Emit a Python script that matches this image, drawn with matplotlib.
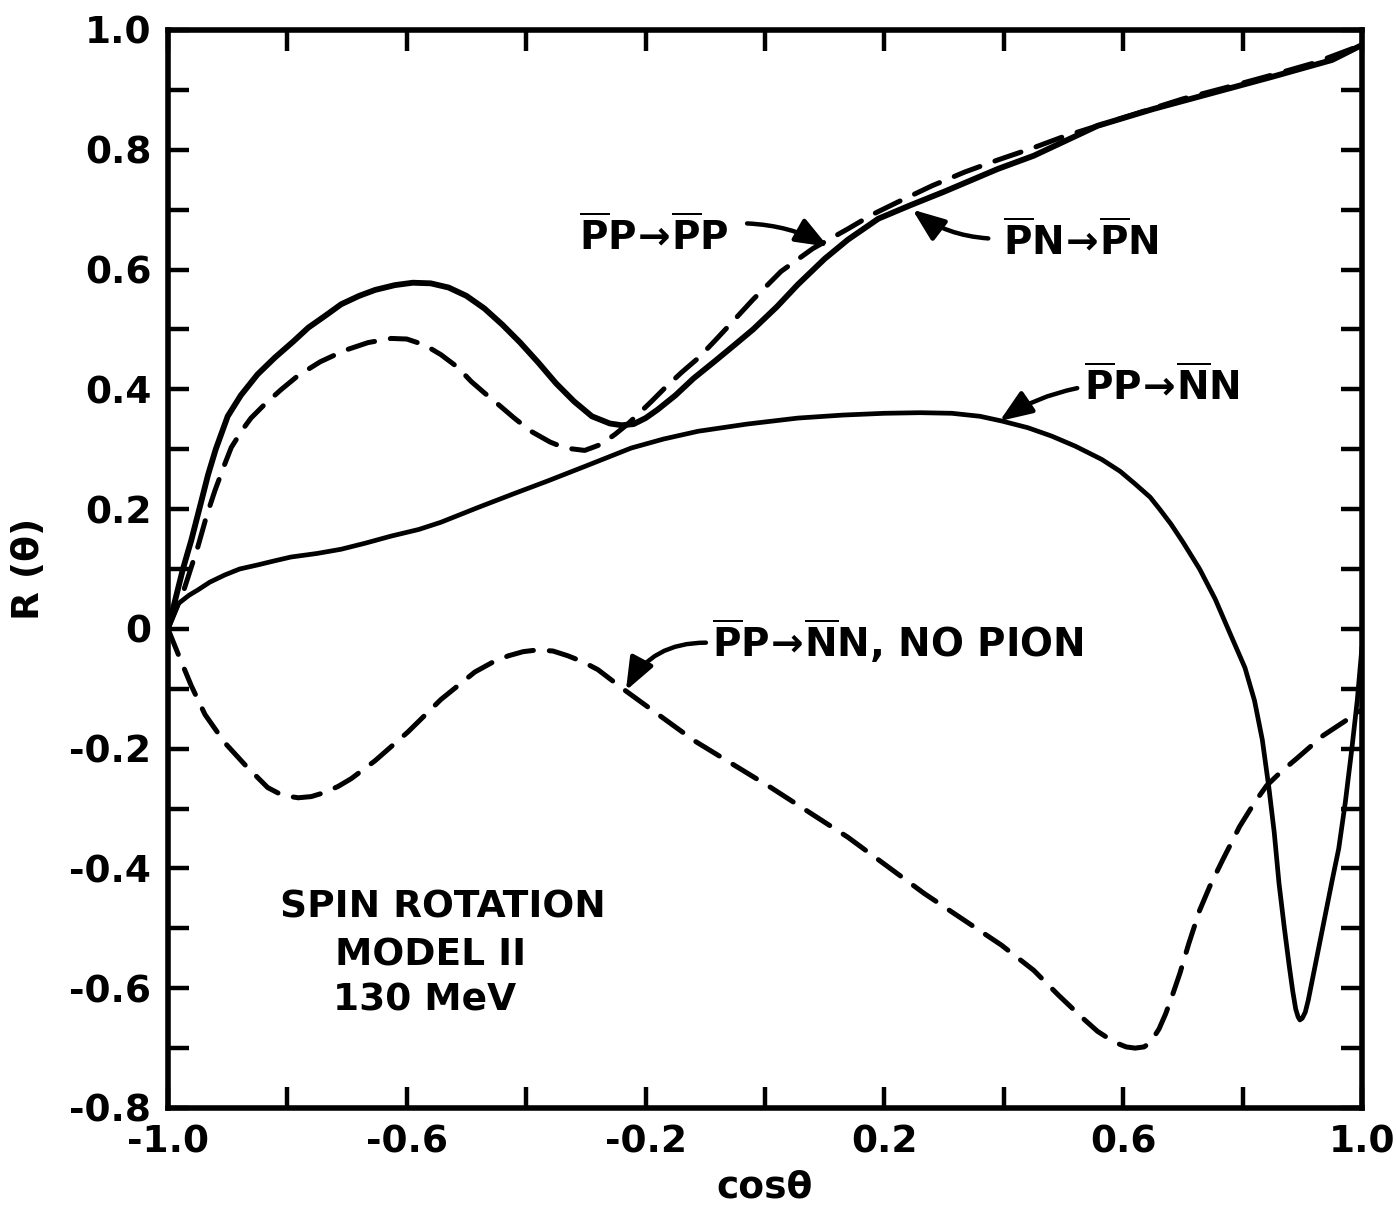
import matplotlib
matplotlib.use("Agg")
import matplotlib.pyplot as plt

plt.rcParams['font.family'] = ['DejaVu Sans']
plt.rcParams['font.weight'] = 'bold'
plt.rcParams['mathtext.fontset'] = 'dejavusans'

# ---- data ----
pn_x = [-1.0, -0.99, -0.975, -0.961, -0.945, -0.933, -0.92, -0.9, -0.878, -0.85, -0.821,
        -0.79, -0.765, -0.735, -0.71, -0.68, -0.653, -0.62, -0.59, -0.56, -0.53, -0.5,
        -0.47, -0.44, -0.41, -0.38, -0.35, -0.32, -0.29, -0.26, -0.24, -0.22, -0.2,
        -0.18, -0.15, -0.12, -0.084, -0.05, -0.02, 0.02, 0.055, 0.1, 0.139, 0.19, 0.245,
        0.3, 0.39, 0.45, 0.557, 0.65, 0.75, 0.85, 0.95, 1.0]
pn_y = [0.0, 0.04, 0.1, 0.148, 0.21, 0.257, 0.3, 0.355, 0.39, 0.425, 0.453,
        0.48, 0.503, 0.524, 0.542, 0.556, 0.566, 0.574, 0.578, 0.577, 0.57, 0.556,
        0.535, 0.508, 0.478, 0.445, 0.41, 0.38, 0.355, 0.343, 0.34, 0.342, 0.352,
        0.366, 0.39, 0.418, 0.447, 0.475, 0.5, 0.538, 0.575, 0.618, 0.65, 0.685, 0.708,
        0.73, 0.768, 0.79, 0.84, 0.868, 0.895, 0.922, 0.95, 0.975]

pp_x = [-1.0, -0.975, -0.95, -0.935, -0.921, -0.905, -0.894, -0.875, -0.861, -0.838,
        -0.81, -0.782, -0.745, -0.704, -0.665, -0.626, -0.6, -0.57, -0.543, -0.515,
        -0.492, -0.47, -0.447, -0.42, -0.392, -0.36, -0.335, -0.302, -0.275, -0.251,
        -0.23, -0.213, -0.19, -0.168, -0.14, -0.112, -0.085, -0.057, -0.02, 0.027,
        0.08, 0.139, 0.18, 0.223, 0.28, 0.335, 0.39, 0.446, 0.5, 0.557, 0.63, 0.7,
        0.78, 0.85, 0.92, 1.0]
pp_y = [0.0, 0.06, 0.137, 0.19, 0.232, 0.275, 0.303, 0.333, 0.352, 0.375,
        0.4, 0.423, 0.446, 0.465, 0.478, 0.485, 0.484, 0.474, 0.458, 0.437,
        0.413, 0.394, 0.375, 0.352, 0.33, 0.312, 0.302, 0.298, 0.308, 0.325,
        0.342, 0.358, 0.38, 0.402, 0.428, 0.452, 0.48, 0.51, 0.55, 0.597,
        0.635, 0.668, 0.692, 0.713, 0.74, 0.763, 0.783, 0.802, 0.822, 0.84, 0.863, 0.885,
        0.906, 0.925, 0.945, 0.975]

nn_x = [-1.0, -0.99, -0.983, -0.965, -0.95, -0.93, -0.905, -0.88, -0.849, -0.82,
        -0.794, -0.75, -0.71, -0.67, -0.626, -0.58, -0.543, -0.48, -0.42, -0.364,
        -0.3, -0.224, -0.17, -0.112, -0.03, 0.055, 0.13, 0.2, 0.26, 0.313, 0.36,
        0.397, 0.44, 0.48, 0.52, 0.564, 0.595, 0.62, 0.645, 0.661, 0.68, 0.70,
        0.728, 0.754, 0.78, 0.804, 0.82, 0.833, 0.844, 0.853, 0.861, 0.87, 0.878,
        0.884, 0.889, 0.893, 0.896, 0.9, 0.905, 0.91, 0.916, 0.927, 0.938, 0.95,
        0.961, 0.972, 0.983, 0.992, 1.0]
nn_y = [0.0, 0.025, 0.042, 0.056, 0.065, 0.078, 0.09, 0.1, 0.107, 0.114,
        0.12, 0.126, 0.133, 0.143, 0.155, 0.166, 0.178, 0.203, 0.226, 0.247,
        0.272, 0.302, 0.317, 0.33, 0.342, 0.352, 0.357, 0.36, 0.361, 0.36, 0.355,
        0.347, 0.336, 0.322, 0.305, 0.283, 0.263, 0.242, 0.22, 0.2, 0.175, 0.145,
        0.1, 0.05, -0.01, -0.065, -0.12, -0.185, -0.265, -0.34, -0.425, -0.5, -0.562,
        -0.605, -0.635, -0.648, -0.653, -0.65, -0.64, -0.62, -0.59, -0.535, -0.48, -0.42,
        -0.367, -0.29, -0.2, -0.12, -0.03]

np_x = [-1.0, -0.983, -0.961, -0.938, -0.905, -0.871, -0.833, -0.808, -0.782, -0.76,
        -0.737, -0.715, -0.693, -0.653, -0.598, -0.543, -0.486, -0.455, -0.43, -0.405,
        -0.38, -0.355, -0.33, -0.305, -0.28, -0.234, -0.118, 0.01, 0.139, 0.267, 0.396,
        0.45, 0.492, 0.53, 0.557, 0.585, 0.605, 0.62, 0.635, 0.646, 0.66, 0.671, 0.683,
        0.695, 0.71, 0.728, 0.745, 0.767, 0.795, 0.82, 0.84, 0.865, 0.89, 0.935, 0.97, 1.0]
np_y = [0.0, -0.042, -0.095, -0.143, -0.19, -0.227, -0.265, -0.278, -0.282, -0.28,
        -0.273, -0.263, -0.25, -0.22, -0.172, -0.118, -0.072, -0.055, -0.045, -0.038,
        -0.035, -0.037, -0.045, -0.055, -0.068, -0.103, -0.187, -0.265, -0.348, -0.442, -0.528,
        -0.57, -0.612, -0.648, -0.672, -0.69, -0.698, -0.70, -0.698, -0.69, -0.668, -0.643, -0.61,
        -0.575, -0.525, -0.47, -0.43, -0.385, -0.33, -0.29, -0.262, -0.238, -0.217, -0.178, -0.155, -0.135]

x_ticks = [-1.0, -0.8, -0.6, -0.4, -0.2, 0.0, 0.2, 0.4, 0.6, 0.8, 1.0]
x_labels = ['-1.0', '', '-0.6', '', '-0.2', '', '0.2', '', '0.6', '', '1.0']
y_ticks = [1.0, 0.9, 0.8, 0.7, 0.6, 0.5, 0.4, 0.3, 0.2, 0.1, 0.0,
           -0.1, -0.2, -0.3, -0.4, -0.5, -0.6, -0.7, -0.8]
y_labels = ['1.0', '', '0.8', '', '0.6', '', '0.4', '', '0.2', '', '0',
            '', '-0.2', '', '-0.4', '', '-0.6', '', '-0.8']

lbl_pp = r'$\overline{\mathbf{P}}\mathbf{P}\!\rightarrow\!\overline{\mathbf{P}}\mathbf{P}$'
lbl_pn = r'$\overline{\mathbf{P}}\mathbf{N}\!\rightarrow\!\overline{\mathbf{P}}\mathbf{N}$'
lbl_nn = r'$\overline{\mathbf{P}}\mathbf{P}\!\rightarrow\!\overline{\mathbf{N}}\mathbf{N}$'
lbl_np = r'$\overline{\mathbf{P}}\mathbf{P}\!\rightarrow\!\overline{\mathbf{N}}\mathbf{N}$, NO PION'

# ---- figure ----
W, H = 1396, 1216
fig = plt.figure(figsize=(W / 100, H / 100), dpi=100)
L, R, T, B = 168, 1362, 30, 1108
ax = fig.add_axes([L / W, 1 - B / H, (R - L) / W, (B - T) / H])

solid_kw = dict(color='black', solid_capstyle='round', solid_joinstyle='round')
ax.plot(pn_x, pn_y, lw=4.2, **solid_kw)
ax.plot(nn_x, nn_y, lw=3.4, **solid_kw)
ax.plot(pp_x, pp_y, lw=3.6, color='black', linestyle=(0, (5.5, 3.2)), dash_capstyle='round')
ax.plot(np_x, np_y, lw=3.6, color='black', linestyle=(0, (5.5, 3.2)), dash_capstyle='round')

ax.set_xlim(-1.0, 1.0)
ax.set_ylim(-0.8, 1.0)
ax.set_xticks(x_ticks)
ax.set_xticklabels(x_labels)
ax.set_yticks(y_ticks)
ax.set_yticklabels(y_labels)
ax.tick_params(direction='in', top=True, right=True, length=15, width=3.2,
               labelsize=27, pad=12)
for lab in ax.get_xticklabels() + ax.get_yticklabels():
    lab.set_fontweight('bold')
for sp in ax.spines.values():
    sp.set_linewidth(4)

ax.set_xlabel(r'cos$\boldsymbol{\theta}$' if False else 'cos\u03b8', fontsize=27,
              fontweight='bold', labelpad=6)
ax.set_ylabel('R (\u03b8)', fontsize=27, fontweight='bold', labelpad=16)

txt_kw = dict(fontsize=28, fontweight='bold', va='center', ha='left')
ax.text(-0.312, 0.655, lbl_pp, **txt_kw)
ax.text(0.398, 0.647, lbl_pn, **txt_kw)
ax.text(0.534, 0.405, lbl_nn, **txt_kw)
ax.text(-0.089, -0.02, lbl_np, **txt_kw)

ax.text(-0.812, -0.465, 'SPIN ROTATION', fontsize=27, fontweight='bold', va='center', ha='left')
ax.text(-0.72, -0.545, 'MODEL II', fontsize=27, fontweight='bold', va='center', ha='left')
ax.text(-0.723, -0.62, '130 MeV', fontsize=27, fontweight='bold', va='center', ha='left')

def arrow(start, tip, rad):
    ax.annotate('', xy=tip, xytext=start,
                arrowprops=dict(arrowstyle='-|>,head_length=0.9,head_width=0.35',
                                lw=3.2, color='black', shrinkA=0, shrinkB=0,
                                mutation_scale=22,
                                connectionstyle='arc3,rad=%s' % rad))

arrow((-0.03, 0.677), (0.106, 0.638), -0.12)
arrow((0.374, 0.652), (0.247, 0.70), -0.15)
arrow((0.523, 0.402), (0.393, 0.347), 0.1)
arrow((-0.099, -0.023), (-0.233, -0.103), 0.3)

fig.savefig('out.png', dpi=100)
